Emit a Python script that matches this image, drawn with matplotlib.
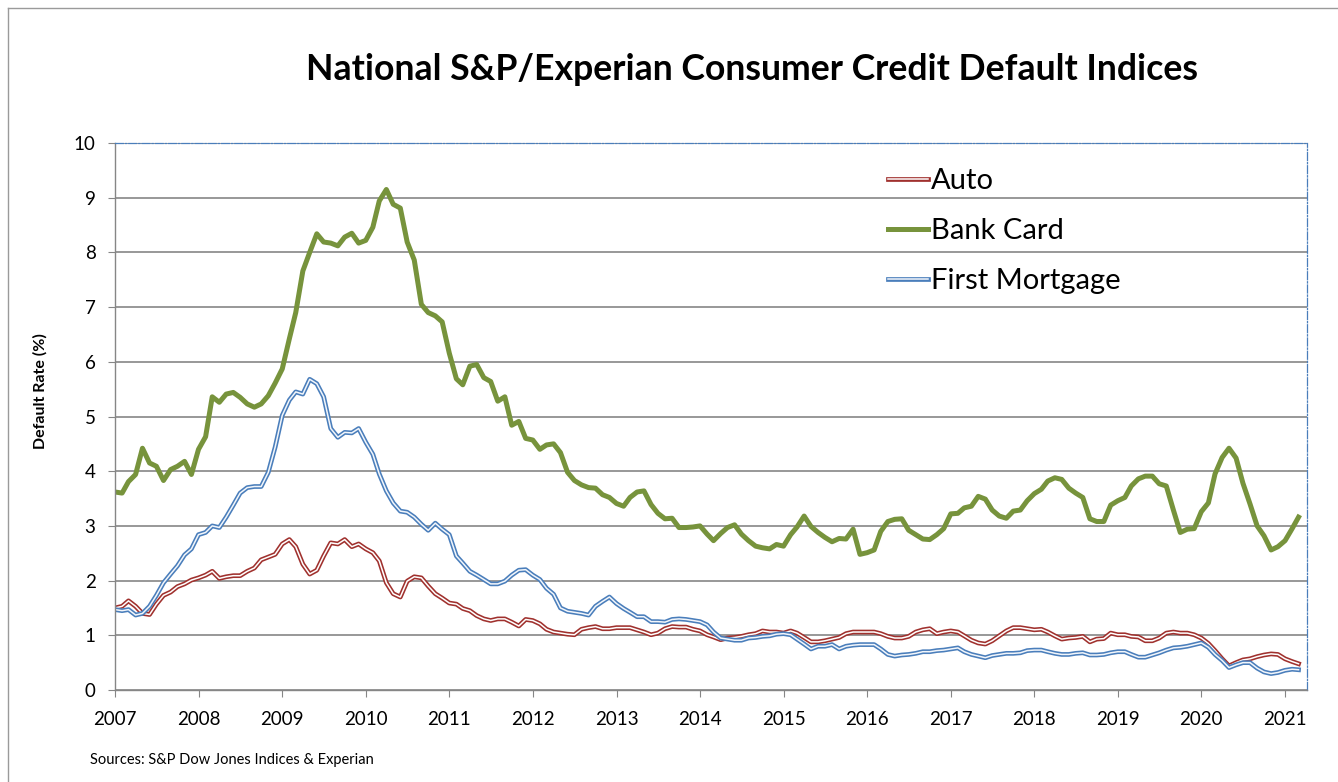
import numpy as np
import pandas as pd
import matplotlib
matplotlib.use('Agg')
import matplotlib.pyplot as plt
import matplotlib.patheffects as pe
from matplotlib.lines import Line2D

plt.rcParams['font.family'] = ['Lato', 'DejaVu Sans']

# monthly index values, Jan 2007 - Mar 2021
months = pd.date_range('2007-01-01', periods=171, freq='MS')

auto = [
    1.50, 1.53, 1.63, 1.53, 1.40, 1.38, 1.57, 1.73, 1.79, 1.89, 1.94, 2.01,
    2.05, 2.10, 2.17, 2.04, 2.07, 2.09, 2.09, 2.17, 2.23, 2.38, 2.43, 2.48,
    2.67, 2.75, 2.62, 2.30, 2.12, 2.19, 2.45, 2.69, 2.67, 2.75, 2.62, 2.67,
    2.58, 2.51, 2.36, 1.96, 1.76, 1.70, 1.99, 2.07, 2.05, 1.90, 1.76, 1.68,
    1.59, 1.57, 1.49, 1.45, 1.36, 1.30, 1.27, 1.30, 1.30, 1.24, 1.17, 1.29,
    1.27, 1.21, 1.11, 1.06, 1.04, 1.02, 1.01, 1.11, 1.14, 1.16, 1.12, 1.12,
    1.14, 1.14, 1.14, 1.10, 1.06, 1.01, 1.04, 1.12, 1.16, 1.15, 1.15, 1.11,
    1.08, 1.01, 0.97, 0.92, 0.95, 0.96, 0.98, 1.01, 1.03, 1.08, 1.06, 1.06,
    1.04, 1.08, 1.04, 0.96, 0.88, 0.88, 0.90, 0.93, 0.96, 1.03, 1.06, 1.06,
    1.06, 1.06, 1.03, 0.98, 0.95, 0.95, 0.98, 1.06, 1.10, 1.12, 1.03, 1.06,
    1.08, 1.06, 0.99, 0.91, 0.86, 0.84, 0.90, 0.99, 1.08, 1.14, 1.14, 1.12,
    1.10, 1.11, 1.06, 0.99, 0.93, 0.95, 0.96, 0.98, 0.88, 0.93, 0.94, 1.04,
    1.01, 1.01, 0.98, 0.97, 0.90, 0.90, 0.95, 1.04, 1.06, 1.04, 1.04, 1.01,
    0.95, 0.85, 0.72, 0.57, 0.44, 0.50, 0.55, 0.57, 0.61, 0.64, 0.66, 0.65,
    0.57, 0.52, 0.48,
]

bank_card = [
    3.62, 3.60, 3.81, 3.94, 4.42, 4.15, 4.09, 3.83, 4.03, 4.09, 4.18, 3.94,
    4.40, 4.63, 5.36, 5.26, 5.41, 5.44, 5.35, 5.23, 5.17, 5.23, 5.38, 5.61,
    5.87, 6.42, 6.90, 7.66, 8.00, 8.34, 8.19, 8.17, 8.12, 8.28, 8.35, 8.17,
    8.22, 8.46, 8.94, 9.15, 8.88, 8.81, 8.19, 7.86, 7.05, 6.90, 6.84, 6.73,
    6.16, 5.69, 5.58, 5.92, 5.95, 5.71, 5.64, 5.28, 5.36, 4.84, 4.91, 4.60,
    4.57, 4.40, 4.48, 4.50, 4.34, 3.98, 3.83, 3.75, 3.70, 3.69, 3.57, 3.52,
    3.41, 3.36, 3.52, 3.62, 3.64, 3.39, 3.23, 3.13, 3.14, 2.97, 2.97, 2.98,
    3.00, 2.85, 2.73, 2.86, 2.97, 3.02, 2.85, 2.73, 2.63, 2.60, 2.58, 2.66,
    2.63, 2.84, 2.98, 3.18, 2.99, 2.88, 2.79, 2.71, 2.77, 2.76, 2.94, 2.48,
    2.51, 2.56, 2.90, 3.08, 3.12, 3.13, 2.92, 2.84, 2.76, 2.75, 2.84, 2.95,
    3.22, 3.23, 3.33, 3.36, 3.54, 3.49, 3.29, 3.18, 3.14, 3.27, 3.29, 3.46,
    3.59, 3.67, 3.82, 3.88, 3.85, 3.69, 3.60, 3.52, 3.13, 3.08, 3.08, 3.38,
    3.46, 3.52, 3.73, 3.86, 3.91, 3.91, 3.77, 3.73, 3.29, 2.88, 2.94, 2.95,
    3.26, 3.42, 3.95, 4.25, 4.42, 4.24, 3.78, 3.40, 3.00, 2.82, 2.56, 2.62,
    2.73, 2.95, 3.16,
]

first_mortgage = [
    1.47, 1.45, 1.47, 1.37, 1.40, 1.53, 1.73, 1.96, 2.12, 2.27, 2.47, 2.58,
    2.84, 2.88, 3.00, 2.97, 3.16, 3.38, 3.60, 3.70, 3.72, 3.72, 3.98, 4.44,
    5.02, 5.30, 5.45, 5.41, 5.68, 5.60, 5.36, 4.78, 4.62, 4.71, 4.70, 4.78,
    4.53, 4.31, 3.95, 3.64, 3.42, 3.27, 3.25, 3.16, 3.03, 2.92, 3.05, 2.94,
    2.84, 2.45, 2.32, 2.17, 2.10, 2.02, 1.94, 1.94, 1.99, 2.10, 2.19, 2.20,
    2.10, 2.02, 1.86, 1.75, 1.50, 1.44, 1.42, 1.40, 1.37, 1.53, 1.62, 1.70,
    1.58, 1.49, 1.42, 1.34, 1.34, 1.25, 1.25, 1.24, 1.29, 1.30, 1.29, 1.27,
    1.25, 1.19, 1.06, 0.95, 0.93, 0.91, 0.91, 0.95, 0.96, 0.98, 0.99, 1.02,
    1.03, 1.01, 0.93, 0.84, 0.75, 0.80, 0.80, 0.83, 0.75, 0.80, 0.82, 0.83,
    0.83, 0.83, 0.75, 0.65, 0.62, 0.64, 0.65, 0.67, 0.70, 0.70, 0.72, 0.73,
    0.75, 0.77, 0.70, 0.65, 0.62, 0.59, 0.63, 0.65, 0.67, 0.67, 0.68, 0.72,
    0.73, 0.73, 0.70, 0.67, 0.65, 0.65, 0.67, 0.68, 0.64, 0.64, 0.65, 0.68,
    0.70, 0.70, 0.65, 0.60, 0.60, 0.64, 0.68, 0.73, 0.77, 0.78, 0.80, 0.83,
    0.86, 0.78, 0.65, 0.54, 0.41, 0.46, 0.50, 0.50, 0.40, 0.33, 0.30, 0.32,
    0.36, 0.38, 0.37,
]

years = list(range(2007, 2022))
year_ticks = [pd.Timestamp(f'{y}-01-01') for y in years]

red = '#A0312E'
green = '#77933C'
blue = '#4A7EBB'
grid_gray = '#868686'

fig = plt.figure(figsize=(13.38, 7.82), dpi=100)

# outer chart border
fig.add_artist(Line2D([8 / 1338, 8 / 1338], [0, 1 - 8 / 782], transform=fig.transFigure,
                      color='#9A9A9A', lw=1))
fig.add_artist(Line2D([8 / 1338, 1], [1 - 8 / 782, 1 - 8 / 782], transform=fig.transFigure,
                      color='#9A9A9A', lw=1))

ax = fig.add_axes([115 / 1338, 1 - 690 / 782, (1307 - 115) / 1338, (690 - 143) / 782])

ax.plot(months, auto, color='white', lw=1.1, label='Auto',
        path_effects=[pe.Stroke(linewidth=3.4, foreground=red), pe.Normal()])
ax.plot(months, bank_card, color=green, lw=3.6, label='Bank Card')
ax.plot(months, first_mortgage, color='#F2F6FB', lw=1.1, label='First Mortgage',
        path_effects=[pe.Stroke(linewidth=3.4, foreground=blue), pe.Normal()])

ax.set_ylim(0, 10)
ax.set_yticks(range(0, 11))
ax.set_xlim(months[0], pd.Timestamp('2021-04-07'))
ax.set_xticks(year_ticks)
ax.set_xticklabels([str(y) for y in years])

ax.yaxis.grid(True, color=grid_gray, lw=1.2)
ax.set_axisbelow(True)

for side in ['left', 'bottom']:
    ax.spines[side].set_color(grid_gray)
    ax.spines[side].set_linewidth(1)
for side in ['top', 'right']:
    ax.spines[side].set_color(blue)
    ax.spines[side].set_linewidth(0.9)
    ax.spines[side].set_linestyle('-.')

ax.tick_params(axis='both', direction='out', length=5, color=grid_gray, labelsize=13.5)
ax.tick_params(axis='y', pad=9)
ax.tick_params(axis='x', pad=10)

fig.text(752 / 1338, 1 - 70 / 782, 'National S&P/Experian Consumer Credit Default Indices',
         ha='center', va='center', fontsize=25.7, fontweight='bold')
fig.text(40 / 1338, 1 - 391 / 782, 'Default Rate (%)', rotation=90,
         ha='center', va='center', fontsize=11.5, fontweight='bold')
fig.text(90 / 1338, 1 - 760 / 782, 'Sources: S&P Dow Jones Indices & Experian',
         ha='left', va='center', fontsize=10.5)

ax.legend(loc='upper left', bbox_to_anchor=(888 / 1338, 1 - 168 / 782),
          bbox_transform=fig.transFigure, frameon=False, fontsize=21,
          handlelength=1.37, handletextpad=0.1, labelspacing=0.82,
          borderpad=0, borderaxespad=0)

fig.savefig('out.png', dpi=100)
